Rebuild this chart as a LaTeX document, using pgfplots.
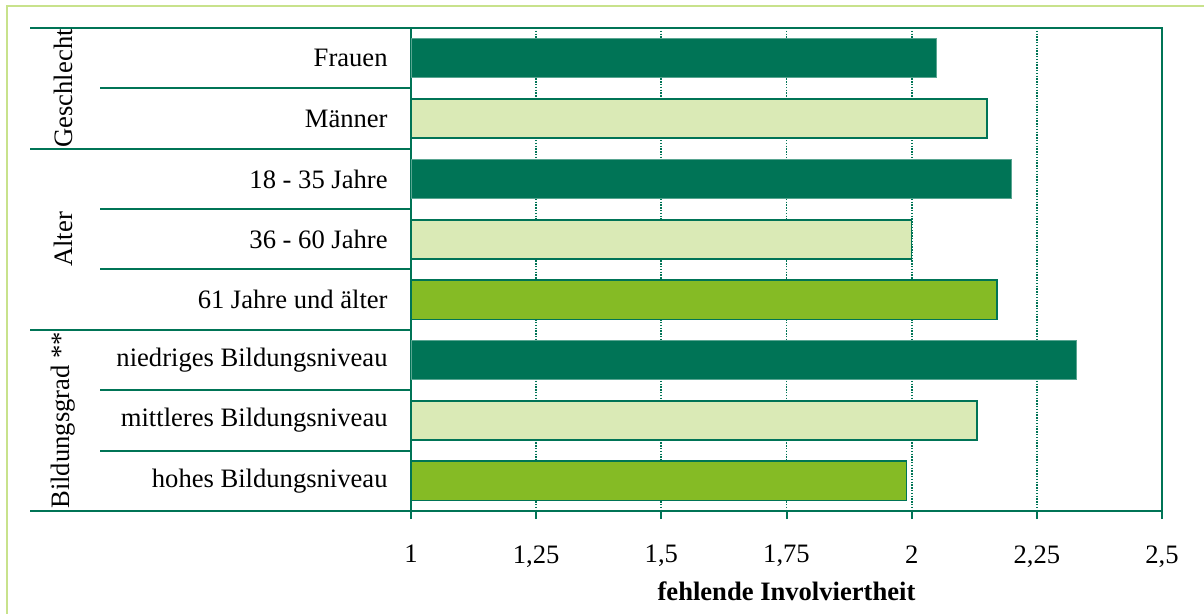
\documentclass[border=0pt]{standalone}
\usepackage{fontspec}
\setmainfont{Liberation Serif}
\usepackage{pgfplots}
\pgfplotsset{compat=1.18}

\definecolor{dkgreen}{RGB}{0,116,86}
\definecolor{ltgreen}{RGB}{218,234,182}
\definecolor{mdgreen}{RGB}{133,187,37}
\definecolor{frame}{RGB}{200,226,140}

\begin{document}
\fontsize{13.3bp}{15bp}\selectfont
\begin{tikzpicture}
\useasboundingbox (0,0) rectangle (602bp,307bp);
% outer frame (left and top visible)
\draw[frame, line width=1bp] (3.5bp,0) -- (3.5bp,304bp) -- (602bp,304bp);

\begin{axis}[
    at={(205.5bp,51.5bp)}, anchor=south west,
    width=375.5bp, height=241.5bp, scale only axis,
    xmin=1, xmax=2.5, ymin=-0.5, ymax=7.5, y dir=reverse,
    xbar, bar width=0.65, bar shift=0pt,
    axis line style={dkgreen, line width=1bp},
    xtick={1,1.25,1.5,1.75,2,2.25,2.5},
    /pgf/number format/.cd, use comma, assume math mode=true, /pgfplots/.cd,
    xmajorgrids,
    grid style={dkgreen, line width=0.9bp, dash pattern=on 0.7bp off 0.7bp},
    xtick pos=bottom, tick align=outside, major tick length=4bp,
    xtick style={dkgreen, line width=1bp},
    xticklabel style={anchor=north, inner sep=0pt, yshift=-13bp},
    ytick={0,1,2,3,4,5,6,7},
    yticklabels={Frauen, Männer, {18 - 35 Jahre\ }, 36 - 60 Jahre, 61 Jahre und älter,
                 niedriges Bildungsniveau, mittleres Bildungsniveau, hohes Bildungsniveau},
    ytick style={draw=none},
    yticklabel style={anchor=east, inner sep=0pt, xshift=-7.5bp},
    xlabel={\bfseries fehlende Involviertheit},
    xlabel style={at={(axis description cs:0.5,0)}, anchor=north, inner sep=0pt, yshift=-35bp},
]
\addplot[fill=dkgreen, draw=dkgreen!65] coordinates {(2.05,0) (2.20,2) (2.33,5)};
\addplot[fill=ltgreen, draw=dkgreen, line width=0.8bp] coordinates {(2.15,1) (2.00,3) (2.13,6)};
\addplot[fill=mdgreen, draw=dkgreen, line width=0.8bp] coordinates {(2.17,4) (1.99,7)};
\end{axis}

% category separators of the left table
\foreach \k in {1,3,4,6,7}
  \draw[dkgreen, line width=1bp] (50bp,{293bp-\k*30.1875bp}) -- (205.5bp,{293bp-\k*30.1875bp});
\foreach \k in {0,2,5,8}
  \draw[dkgreen, line width=1bp] (15bp,{293bp-\k*30.1875bp}) -- (205.5bp,{293bp-\k*30.1875bp});

% group labels
\node[rotate=90, inner sep=0pt] at (31.5bp,262.8bp) {Geschlecht};
\node[rotate=90, inner sep=0pt] at (31.5bp,187.3bp) {Alter};
\node[rotate=90, inner sep=0pt] at (31.5bp,96.8bp) {Bildungsgrad **};
\end{tikzpicture}
\end{document}
